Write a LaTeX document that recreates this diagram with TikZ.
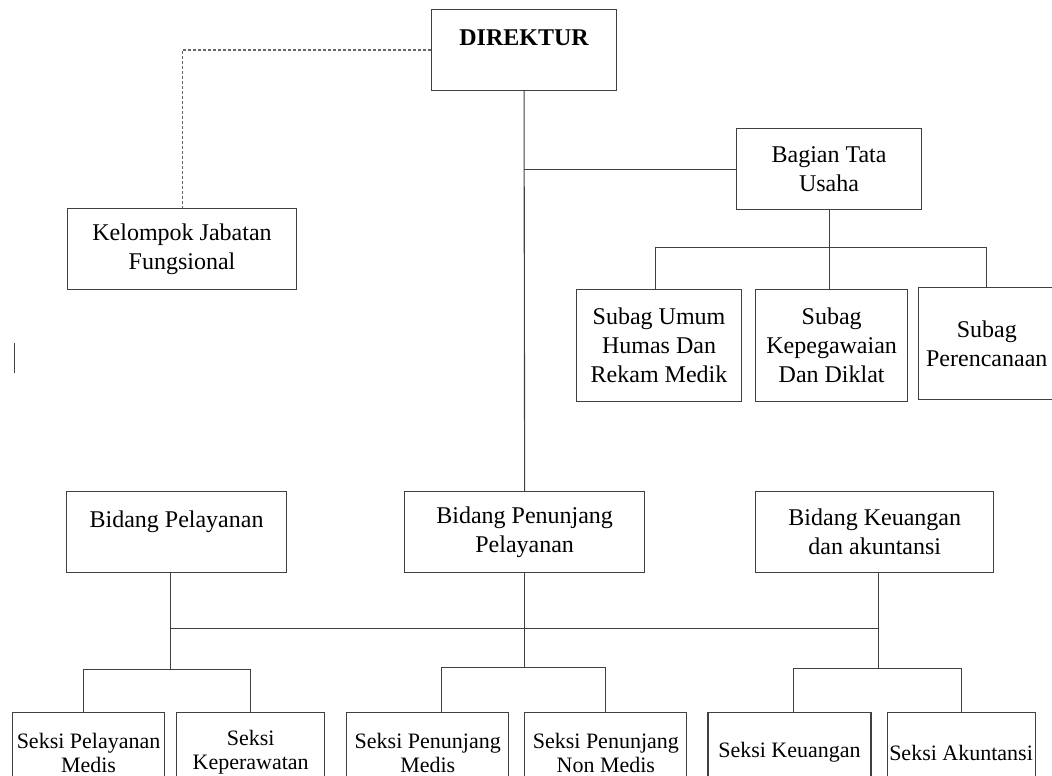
\documentclass[tikz,border=0pt]{standalone}
\usepackage{fontspec}
\setmainfont{Liberation Serif}
\usetikzlibrary{positioning}
\tikzset{
  box/.style   = {draw=black!75, line width=1.1pt, rectangle, inner sep=0pt, align=center,
                  font=\fontsize{24}{29}\selectfont},
  head/.style  = {box, font=\fontsize{24}{29}\selectfont\bfseries,
                  minimum width=185pt, minimum height=81pt},
  bidang/.style = {box, minimum height=81pt},
  subag/.style = {box, minimum height=112pt},
  seksi/.style = {box, font=\fontsize{22}{24}\selectfont, minimum height=80pt},
  link/.style  = {draw=black!75, line width=1.1pt},
  dotlink/.style = {draw=black!60, line width=1.1pt, dash pattern=on 3pt off 2pt}
}
\begin{document}
\begin{tikzpicture}[x=1pt,y=-1pt]
\useasboundingbox (0,0) rectangle (1052,776);
% top
\node[head, anchor=north west] (dir) at (431,9) {DIREKTUR\\[-4pt]\mbox{}};
\node[bidang, minimum width=229pt, anchor=north west] (kelompok) at (67,208)
  {Kelompok Jabatan\\Fungsional};
\node[bidang, minimum width=185pt, anchor=north west] (bagian) at (736,128)
  {Bagian Tata\\Usaha};
% subag
\node[subag, minimum width=165pt, anchor=north west] (umum) at (576,289)
  {Subag Umum\\Humas Dan\\Rekam Medik};
\node[subag, minimum width=152pt, right=13pt of umum] (kepeg)
  {Subag\\Kepegawaian\\Dan Diklat};
\node[subag, minimum width=136pt, right=10pt of kepeg, yshift=2pt] (renc)
  {Subag\\Perencanaan};
% bidang
\node[bidang, minimum width=220pt, anchor=north west] (pelayanan) at (66,491)
  {Bidang Pelayanan\\[-4pt]\mbox{}};
\node[bidang, minimum width=240pt, right=117pt of pelayanan] (penunjang)
  {Bidang Penunjang\\Pelayanan};
\node[bidang, minimum width=238pt, right=110pt of penunjang] (keuangan)
  {Bidang Keuangan\\dan akuntansi};
% seksi
\node[seksi, minimum width=152pt, anchor=north west] (medis) at (12,712)
  {Seksi Pelayanan\\Medis};
\node[seksi, minimum width=148pt, right=11pt of medis] (rawat)
  {Seksi\\Keperawatan};
\node[seksi, minimum width=162pt, right=21pt of rawat] (pmedis)
  {Seksi Penunjang\\Medis};
\node[seksi, minimum width=162pt, right=15pt of pmedis] (nonmedis)
  {Seksi Penunjang\\Non Medis};
\node[seksi, minimum width=163pt, right=20pt of nonmedis] (suang)
  {Seksi Keuangan};
\node[seksi, minimum width=148pt, right=15pt of suang] (akun)
  {Seksi Akuntansi};

\path[dotlink] (dir.west) -| (kelompok.north);
\path[link] (dir.south) -- (penunjang.north);
\path[link] (dir.south |- bagian.west) -- (bagian.west);
\path[link] (bagian.south) -- ++(0,37) coordinate (tubar);
\path[link] ([xshift=-4pt]umum.north) |- (tubar) -| (renc.north);
\path[link] (tubar) -- (tubar |- kepeg.north);

\path (penunjang.south) ++(0,55) coordinate (bidbar);
\path[link] ([xshift=-6pt]pelayanan.south) |- (bidbar) -| ([xshift=4pt]keuangan.south);
\path[link] ([xshift=-6pt]pelayanan.south) -- ++(0,96) coordinate (plbar);
\path[link] (penunjang.south) -- ++(0,94) coordinate (pjbar);
\path[link] ([xshift=4pt]keuangan.south) -- ++(0,95) coordinate (kubar);
\path[link] ([xshift=-5pt]medis.north) |- (plbar) -| (rawat.north);
\path[link] ([xshift=14pt]pmedis.north) |- (pjbar) -| (nonmedis.north);
\path[link] ([xshift=4pt]suang.north) |- (kubar) -| (akun.north);

\draw[black!75, line width=1.4pt] (14.5,343) -- (14.5,373);
\end{tikzpicture}
\end{document}
